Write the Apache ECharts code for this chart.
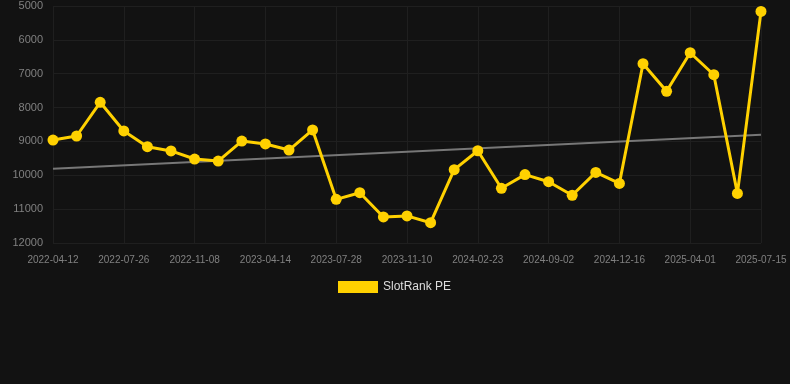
<!DOCTYPE html>
<html>
<head>
<meta charset="utf-8">
<script src="https://cdn.jsdelivr.net/npm/echarts@6/dist/echarts.min.js"></script>
<style>
  html, body { margin: 0; padding: 0; background: #121212; }
  #chart { width: 790px; height: 384px; }
</style>
</head>
<body>
<div id="chart"></div>
<script>
// categories (dates)
const dates = [
  '2022-04-12', '2022-05-17', '2022-06-21', '2022-07-26', '2022-08-30', '2022-10-04',
  '2022-11-08', '2022-12-30', '2023-02-21', '2023-04-14', '2023-05-19', '2023-06-23',
  '2023-07-28', '2023-09-01', '2023-10-06', '2023-11-10', '2023-12-15', '2024-01-19',
  '2024-02-23', '2024-04-28', '2024-07-01', '2024-09-02', '2024-10-07', '2024-11-11',
  '2024-12-16', '2025-01-20', '2025-02-24', '2025-04-01', '2025-05-06', '2025-06-10',
  '2025-07-15'
];

// SlotRank PE values
const rankValues = [
  8960, 8840, 7845, 8690, 9155, 9280, 9520, 9580, 8990, 9075, 9255, 8660,
  10710, 10515, 11230, 11200, 11400, 9835, 9275, 10385, 9980, 10190, 10590,
  9915, 10240, 6705, 7520, 6380, 7030, 10535, 5160
];

// trend line end values
const trendValues = [9805, 8800];

const chart = echarts.init(document.getElementById('chart'));

const option = {
  backgroundColor: '#121212',
  animation: false,
  grid: { left: 53, right: 29, top: 6, bottom: 141, outerBoundsMode: 'none' },
  legend: {
    top: 276,
    left: 333,
    itemWidth: 40,
    itemHeight: 12,
    itemGap: 5,
    textStyle: { color: '#dddddd', fontSize: 12, fontFamily: 'Liberation Sans, Arial, sans-serif' },
    data: [{ name: 'SlotRank PE', icon: 'rect' }]
  },
  xAxis: {
    type: 'category',
    boundaryGap: false,
    data: dates,
    axisLine: { show: false },
    axisTick: { show: false },
    axisLabel: {
      interval: 2,
      color: '#808080',
      fontSize: 10,
      margin: 12,
      fontFamily: 'Liberation Sans, Arial, sans-serif'
    },
    splitLine: { show: true, interval: 2, lineStyle: { color: '#1f1f1f', width: 1 } }
  },
  yAxis: {
    type: 'value',
    inverse: true,
    min: 5000,
    max: 12000,
    interval: 1000,
    axisLine: { show: false },
    axisTick: { show: false },
    axisLabel: {
      color: '#808080',
      fontSize: 11,
      margin: 10,
      formatter: (v) => String(v),
      fontFamily: 'Liberation Sans, Arial, sans-serif'
    },
    splitLine: { lineStyle: { color: '#1f1f1f', width: 1 } }
  },
  series: [
    {
      name: 'SlotRank PE',
      type: 'line',
      data: rankValues,
      color: '#ffd100',
      symbol: 'circle',
      symbolSize: 11,
      lineStyle: { width: 3, color: '#ffd100' },
      itemStyle: { color: '#ffd100' },
      z: 3
    },
    {
      name: 'Trend',
      type: 'line',
      data: [[dates[0], trendValues[0]], [dates[dates.length - 1], trendValues[1]]],
      symbol: 'none',
      lineStyle: { width: 2, color: '#777777' },
      z: 2
    }
  ]
};

chart.setOption(option);
</script>
</body>
</html>
